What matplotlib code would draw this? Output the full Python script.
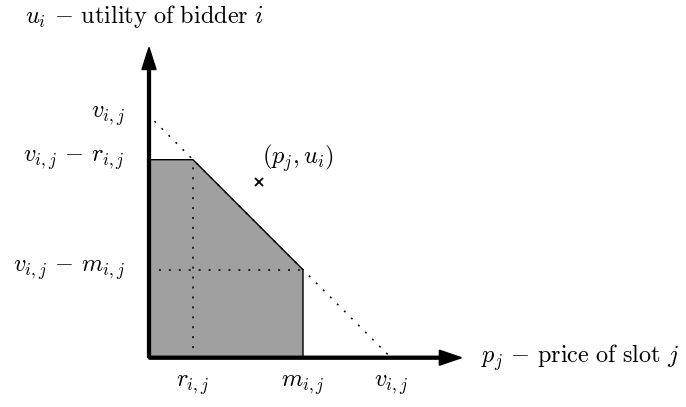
import matplotlib
matplotlib.use("Agg")
import matplotlib.pyplot as plt
from matplotlib.patches import Polygon

plt.rcParams["mathtext.fontset"] = "cm"

# values in diagram units (slope -1 utility line)
v = 11.0      # v_{i,j}
r = 2.0       # r_{i,j}
m = 7.0       # m_{i,j}
point = (5.0, 8.0)   # (p_j, u_i)
x_max = 14.2
y_max = 14.1

x_tick_pos = [r, m, v]
x_tick_labels = [r"$r_{i,j}$", r"$m_{i,j}$", r"$v_{i,j}$"]
y_tick_pos = [v, v - r, v - m]
y_tick_labels = [r"$v_{i,j} $", r"$v_{i,j}\, -\, r_{i,j}$", r"$v_{i,j}\, -\, m_{i,j}$"]

fig = plt.figure(figsize=(6.86, 4.07), dpi=100)
ax = fig.add_axes([0, 0, 1, 1])
px = 22.0
ax.set_xlim(-149 / px, 537 / px)
ax.set_ylim(-49.3 / px, 357.7 / px)
ax.axis("off")

# shaded region
poly = Polygon([(0, 0), (0, v - r), (r, v - r), (m, v - m), (m, 0)],
               closed=True, facecolor="#a0a0a0", edgecolor="black", lw=1.0, zorder=1)
ax.add_patch(poly)

dot = (0, (1.3, 5.2))
# line u = v - p
ax.plot([0.25, v], [v - 0.25, 0], color="black", lw=1.1, ls=dot, zorder=2)
ax.plot([r, r], [0, v - r], color="black", lw=1.1, ls=dot, zorder=2)
ax.plot([0, m], [v - m, v - m], color="black", lw=1.1, ls=dot, zorder=2)

# axes arrows
hl = 1.0
ax.arrow(0, 0, x_max - hl, 0, width=0.13, head_width=0.68, head_length=hl,
         length_includes_head=False, color="black", zorder=3)
ax.arrow(0, 0, 0, y_max - hl, width=0.13, head_width=0.64, head_length=hl,
         length_includes_head=False, color="black", zorder=3)

fs = 17.5
for xp, lab in zip(x_tick_pos, x_tick_labels):
    ax.text(xp, -1.25, lab, ha="center", va="center", fontsize=fs)
for yp, lab in zip(y_tick_pos, y_tick_labels):
    ax.text(-1.1, yp, lab, ha="right", va="center", fontsize=fs)

ax.plot(*point, marker="x", color="black", ms=6, mew=1.3, zorder=4)
ax.text(point[0] + 1.75, point[1] + 1.05, r"$(p_j, u_i)$", ha="center", va="center", fontsize=fs)

ax.text(-5.63, 15.5, r"$u_i\,-\,\mathrm{utility\ of\ bidder}\ i$", ha="left", va="center", fontsize=fs)
ax.text(15.1, 0.0, r"$p_j\,-\,\mathrm{price\ of\ slot}\ j$", ha="left", va="center", fontsize=fs)

fig.savefig("out.png", dpi=100)
